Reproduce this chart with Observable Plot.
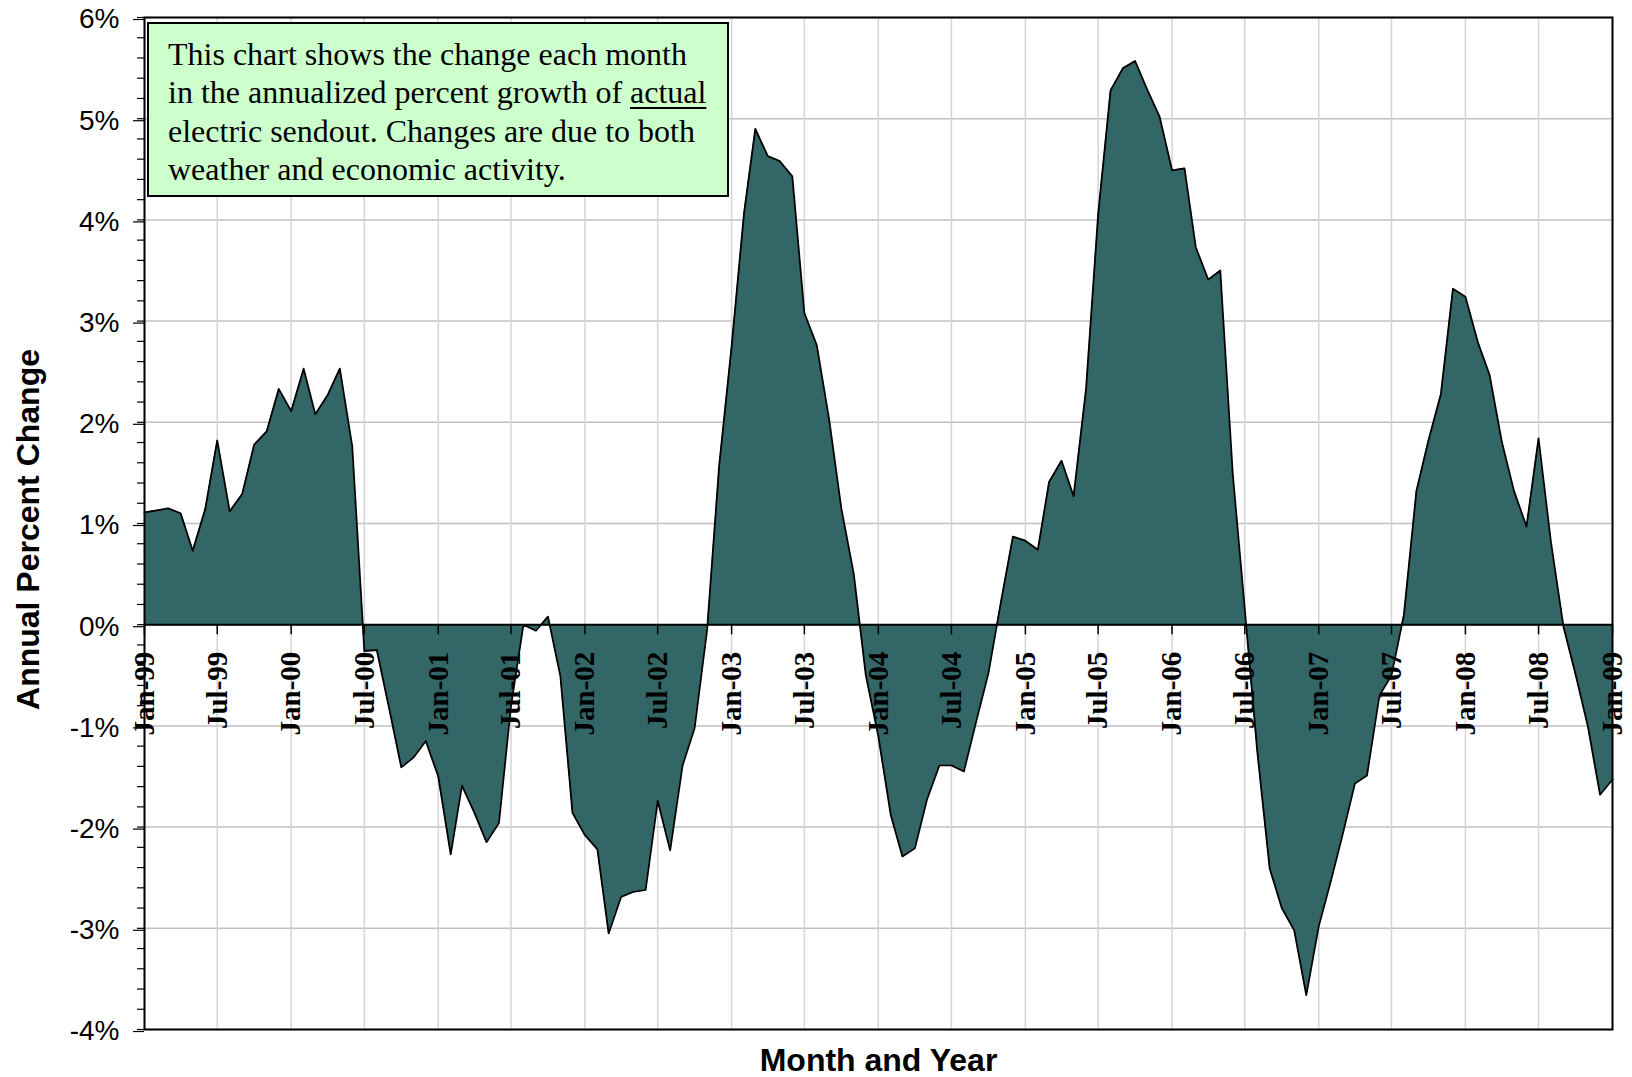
<!DOCTYPE html>
<html>
<head>
<meta charset="utf-8">
<script src="https://cdn.jsdelivr.net/npm/d3@7"></script>
<script src="https://cdn.jsdelivr.net/npm/@observablehq/plot@0.6"></script>
<style>
html, body { margin: 0; padding: 0; background: #ffffff; overflow: hidden; }
#wrap { position: relative; width: 1632px; height: 1077px; }
#note {
  position: absolute; left: 147px; top: 22px; width: 582px; height: 175px;
  box-sizing: border-box; border: 2px solid #000; background: #ccffcc;
  padding: 11px 0 0 19px;
  font-family: "Liberation Serif", "Times New Roman", serif; font-size: 32px; line-height: 38.3px;
  color: #000; white-space: nowrap;
}
#note u { text-decoration-thickness: 1.5px; text-underline-offset: 4px; }
</style>
</head>
<body>
<div id="wrap">
  <div id="chart"></div>
  <div id="note">This chart shows the change each month<br>in the annualized percent growth of <u>actual</u><br>electric sendout. Changes are due to both<br>weather and economic activity.</div>
</div>
<script>
// Monthly values, Jan-99 .. Jan-09 (annual percent change)
const firstMonth = "Jan-99";
const values = [
  1.11, 1.13, 1.15, 1.10, 0.73, 1.14, 1.82, 1.12, 1.29, 1.78, 1.91, 2.33,   // 1999
  2.11, 2.53, 2.08, 2.27, 2.53, 1.76, -0.26, -0.25, -0.83, -1.41, -1.31, -1.15, // 2000
  -1.50, -2.27, -1.59, -1.86, -2.15, -1.96, -0.80, 0.00, -0.06, 0.08, -0.51, -1.86, // 2001
  -2.08, -2.22, -3.05, -2.69, -2.64, -2.62, -1.74, -2.23, -1.39, -1.02, -0.05, 1.57, // 2002
  2.75, 4.07, 4.90, 4.63, 4.58, 4.43, 3.08, 2.76, 2.02, 1.15, 0.50, -0.50, // 2003
  -1.10, -1.88, -2.29, -2.21, -1.73, -1.39, -1.39, -1.45, -0.95, -0.48, 0.22, 0.87, // 2004
  0.83, 0.74, 1.41, 1.62, 1.27, 2.33, 4.05, 5.28, 5.50, 5.57, 5.28, 5.02, // 2005
  4.49, 4.51, 3.73, 3.41, 3.50, 1.49, 0.15, -1.25, -2.41, -2.80, -3.02, -3.66, // 2006
  -2.98, -2.52, -2.08, -1.57, -1.49, -0.70, -0.50, 0.10, 1.32, 1.82, 2.28, 3.32, // 2007
  3.24, 2.79, 2.47, 1.80, 1.32, 0.97, 1.84, 0.81, -0.02, -0.49, -1.01, -1.68, // 2008
  -1.53 // Jan-09
];
const tickLabels = ["Jan-99","Jul-99","Jan-00","Jul-00","Jan-01","Jul-01","Jan-02","Jul-02",
  "Jan-03","Jul-03","Jan-04","Jul-04","Jan-05","Jul-05","Jan-06","Jul-06","Jan-07","Jul-07",
  "Jan-08","Jul-08","Jan-09"];
const yTicks = [-4, -3, -2, -1, 0, 1, 2, 3, 4, 5, 6];
const yMinorTicks = d3.range(-40, 61, 2).map(d => d / 10);
const yTitle = "Annual Percent Change";
const xTitle = "Month and Year";

const parseMonth = d3.utcParse("%b-%y");
const start = parseMonth(firstMonth);
const data = values.map((v, i) => ({date: d3.utcMonth.offset(start, i), value: v}));
const tickDates = tickLabels.map(parseMonth);

const serif = "'Liberation Serif', 'Times New Roman', serif";
const sans = "'Liberation Sans', Arial, sans-serif";

const chart = Plot.plot({
  width: 1632,
  height: 1077,
  marginLeft: 144,
  marginRight: 20,
  marginTop: 17,
  marginBottom: 48,
  style: {fontFamily: sans, background: "#ffffff", color: "#000"},
  x: {type: "utc", domain: [tickDates[0], tickDates[tickDates.length - 1]], axis: null},
  y: {domain: [-4, 6]},
  marks: [
    Plot.gridY(yTicks, {stroke: "#c0c0c0", strokeOpacity: 1, strokeWidth: 1.5}),
    Plot.gridX(tickDates, {stroke: "#d4d4d4", strokeOpacity: 1, strokeWidth: 1.5}),
    Plot.areaY(data, {x: "date", y: "value", fill: "#336666"}),
    Plot.lineY(data, {x: "date", y: "value", stroke: "#000", strokeWidth: 1.8}),
    Plot.ruleY([0], {stroke: "#000", strokeWidth: 2}),
    Plot.ruleX(tickDates, {x: d => d, y1: 0, y2: -0.1, stroke: "#000", strokeWidth: 1.5}),
    Plot.text(tickDates, {
      x: d => d, y: 0, text: (d, i) => tickLabels[i],
      rotate: -90, textAnchor: "end", lineAnchor: "middle", dy: 27,
      fontSize: 29, fontWeight: "bold", fontFamily: serif, fill: "#000"
    }),
    Plot.axisY(yMinorTicks, {tickSize: 7, tickFormat: () => "", label: null, strokeWidth: 1.2}),
    Plot.axisY(yTicks, {
      tickSize: 11, tickPadding: 14, tickFormat: d => d + "%",
      fontSize: 28, label: null, strokeWidth: 1.2, dy: 2
    }),
    Plot.frame({stroke: "#000", strokeWidth: 2}),
    Plot.text([yTitle], {
      frameAnchor: "left", rotate: -90, textAnchor: "middle", dx: -116, dy: 6,
      fontSize: 32, fontWeight: "bold", fill: "#000"
    }),
    Plot.text([xTitle], {
      frameAnchor: "bottom", dy: 31, lineAnchor: "middle", textAnchor: "middle",
      fontSize: 32, fontWeight: "bold", fill: "#000"
    })
  ]
});
document.getElementById("chart").appendChild(chart);
</script>
</body>
</html>
